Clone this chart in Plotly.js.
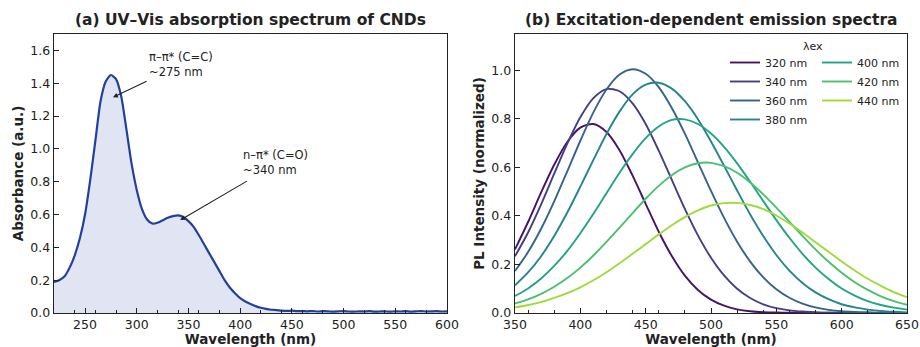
<!DOCTYPE html>
<html>
<head>
<meta charset="utf-8">
<script src="https://cdn.plot.ly/plotly-3.0.1.min.js"></script>
<style>html,body{margin:0;padding:0;background:#fff;}#chart{width:920px;height:347px;}</style>
</head>
<body>
<div id="chart"></div>
<script>
// ---------- Panel (a): UV-Vis absorption ----------
const uvWavelength = [220,225,230,235,240,245,250,255,260,265,270,275,280,285,290,295,300,305,310,315,320,325,330,335,340,345,350,355,360,365,370,375,380,385,390,395,400,405,410,415,420,425,430,435,440,445,450,455,460,465,470,475,480,485,490,495,500,505,510,515,520,525,530,535,540,545,550,555,560,565,570,575,580,585,590,595,600];
const uvAbsorbance = [0.190,0.200,0.222,0.275,0.350,0.455,0.600,0.810,1.050,1.290,1.410,1.450,1.425,1.320,1.120,0.910,0.750,0.635,0.570,0.545,0.550,0.565,0.580,0.590,0.595,0.585,0.560,0.525,0.475,0.420,0.365,0.310,0.255,0.200,0.155,0.120,0.090,0.070,0.055,0.042,0.032,0.025,0.020,0.018,0.015,0.013,0.014,0.011,0.012,0.010,0.012,0.009,0.011,0.010,0.008,0.010,0.012,0.009,0.008,0.010,0.009,0.011,0.008,0.009,0.010,0.008,0.010,0.009,0.011,0.008,0.010,0.012,0.009,0.010,0.011,0.009,0.010];

// ---------- Panel (b): PL emission spectra ----------
const plWavelength = [350,360,370,380,390,400,410,420,430,440,450,460,470,480,490,500,510,520,530,540,550,560,570,580,590,600,610,620,630,640,650];
const excitationLabels = ['320 nm','340 nm','360 nm','380 nm','400 nm','420 nm','440 nm'];
const pl320 = [0.262,0.375,0.497,0.611,0.705,0.764,0.779,0.746,0.671,0.566,0.450,0.335,0.235,0.154,0.095,0.055,0.030,0.015,0.007,0.003,0.002,0.001,0.001,0.000,0.001,0.000,0.000,0.001,0.000,0.000,0.000];
const pl340 = [0.234,0.332,0.448,0.574,0.698,0.807,0.886,0.923,0.914,0.864,0.779,0.669,0.549,0.429,0.320,0.228,0.155,0.100,0.062,0.036,0.020,0.011,0.006,0.003,0.001,0.001,0.000,0.001,0.000,0.000,0.000];
const pl360 = [0.173,0.251,0.347,0.460,0.584,0.710,0.827,0.921,0.983,1.005,0.986,0.931,0.845,0.739,0.621,0.503,0.392,0.294,0.212,0.147,0.098,0.063,0.039,0.023,0.013,0.007,0.004,0.002,0.001,0.001,0.000];
const pl380 = [0.114,0.167,0.234,0.317,0.414,0.521,0.631,0.738,0.830,0.901,0.941,0.949,0.925,0.873,0.799,0.707,0.607,0.505,0.406,0.317,0.239,0.175,0.124,0.085,0.057,0.036,0.023,0.014,0.008,0.005,0.002];
const pl400 = [0.070,0.101,0.142,0.194,0.256,0.329,0.409,0.494,0.578,0.655,0.721,0.769,0.796,0.798,0.779,0.740,0.685,0.617,0.541,0.461,0.383,0.310,0.244,0.187,0.140,0.101,0.072,0.049,0.033,0.022,0.014];
const pl420 = [0.039,0.056,0.079,0.108,0.144,0.187,0.237,0.293,0.352,0.412,0.471,0.524,0.568,0.600,0.617,0.619,0.605,0.578,0.538,0.489,0.434,0.376,0.318,0.262,0.211,0.166,0.127,0.095,0.069,0.049,0.034];
const pl440 = [0.023,0.033,0.045,0.062,0.082,0.106,0.135,0.168,0.205,0.244,0.284,0.324,0.362,0.395,0.423,0.443,0.453,0.454,0.445,0.428,0.402,0.369,0.332,0.292,0.252,0.212,0.175,0.141,0.112,0.086,0.065];
const plSeries = [pl320, pl340, pl360, pl380, pl400, pl420, pl440];

// styles (kept separate from data)
const plColors = ['#471365','#433e85','#32648e','#25848e','#20a486','#4ac16d','#a0da39'];
const W = 920, H = 347;
const FONT = 'DejaVu Sans, Verdana, sans-serif';
const INK = '#222222';

const traces = [];
traces.push({
  x: uvWavelength, y: uvAbsorbance, xaxis: 'x', yaxis: 'y',
  type: 'scatter', mode: 'lines', fill: 'tozeroy',
  fillcolor: 'rgba(40,64,160,0.14)',
  line: {color: '#22409c', width: 2.2, shape: 'spline', smoothing: 0.6},
  showlegend: false, hoverinfo: 'skip'
});
plSeries.forEach((s, i) => {
  traces.push({
    x: plWavelength, y: s, xaxis: 'x2', yaxis: 'y2',
    type: 'scatter', mode: 'lines', name: excitationLabels[i],
    line: {color: plColors[i], width: 1.9, shape: 'spline', smoothing: 0.8},
    legend: i < 4 ? 'legend' : 'legend2', hoverinfo: 'skip'
  });
});

function xAx(domain, range, title) {
  return {
    domain: domain, range: range, tick0: 0, dtick: 50,
    ticks: 'inside', ticklen: 5, tickwidth: 1, tickcolor: INK,
    minor: {ticks: 'inside', ticklen: 3, tickwidth: 1, tickcolor: INK, tick0: 0, dtick: 20},
    showline: true, mirror: true, linecolor: INK, linewidth: 1.3,
    showgrid: false, zeroline: false, automargin: false,
    tickfont: {family: FONT, size: 12.5, color: INK},
    title: {text: title, font: {family: FONT, size: 13.5, color: INK, weight: 'bold'}, standoff: 2}
  };
}
function yAx(domain, range, title) {
  return {
    domain: domain, range: range, tick0: 0, dtick: 0.2, tickformat: '.1f',
    ticks: 'inside', ticklen: 5, tickwidth: 1, tickcolor: INK,
    showline: true, mirror: true, linecolor: INK, linewidth: 1.3,
    showgrid: false, zeroline: false, automargin: false,
    tickfont: {family: FONT, size: 12.5, color: INK},
    title: {text: title, font: {family: FONT, size: 13.5, color: INK, weight: 'bold'}, standoff: 3}
  };
}

const yDom = [34 / H, 313 / H];
const layout = {
  width: W, height: H,
  margin: {l: 0, r: 0, t: 0, b: 0},
  paper_bgcolor: '#ffffff', plot_bgcolor: '#ffffff',
  font: {family: FONT, size: 12, color: INK},
  xaxis: Object.assign(xAx([54 / W, 447 / W], [220, 600], 'Wavelength (nm)'), {anchor: 'y'}),
  yaxis: Object.assign(yAx(yDom, [0, 1.7], 'Absorbance (a.u.)'), {anchor: 'x'}),
  xaxis2: Object.assign(xAx([515 / W, 907 / W], [350, 650], 'Wavelength (nm)'), {anchor: 'y2'}),
  yaxis2: Object.assign(yAx(yDom, [0, 1.15], 'PL Intensity (normalized)'), {anchor: 'x2'}),
  legend: {x: 725 / W, xanchor: 'left', y: (H - 48) / H, yanchor: 'top',
           bgcolor: 'rgba(0,0,0,0)', borderwidth: 0, font: {family: FONT, size: 11, color: INK}, tracegroupgap: 0},
  legend2: {x: 817 / W, xanchor: 'left', y: (H - 48) / H, yanchor: 'top',
           bgcolor: 'rgba(0,0,0,0)', borderwidth: 0, font: {family: FONT, size: 11, color: INK}, tracegroupgap: 0},
  annotations: [
    {xref: 'paper', yref: 'paper', x: 250.5 / W, y: (H - 20) / H, xanchor: 'center', yanchor: 'middle',
     text: '(a) UV–Vis absorption spectrum of CNDs', showarrow: false,
     font: {family: FONT, size: 15.5, color: INK, weight: 'bold'}},
    {xref: 'paper', yref: 'paper', x: 711 / W, y: (H - 20) / H, xanchor: 'center', yanchor: 'middle',
     text: '(b) Excitation-dependent emission spectra', showarrow: false,
     font: {family: FONT, size: 15.5, color: INK, weight: 'bold'}},
    {xref: 'paper', yref: 'paper', x: 813 / W, y: (H - 46) / H, xanchor: 'center', yanchor: 'middle',
     text: 'λex', showarrow: false, font: {family: FONT, size: 11, color: INK}},
    // text labels
    {xref: 'x', yref: 'y', x: 310, y: 1.512, xanchor: 'left', yanchor: 'middle', align: 'left',
     text: 'π–π* (C=C)<br>~275 nm', showarrow: false, font: {family: FONT, size: 11.5, color: INK}},
    {xref: 'x', yref: 'y', x: 400.5, y: 0.915, xanchor: 'left', yanchor: 'middle', align: 'left',
     text: 'n–π* (C=O)<br>~340 nm', showarrow: false, font: {family: FONT, size: 11.5, color: INK}},
    // arrows
    {xref: 'x', yref: 'y', axref: 'x', ayref: 'y', x: 277, y: 1.314, ax: 311, ay: 1.417,
     text: '', showarrow: true, arrowhead: 2, arrowsize: 0.9, arrowwidth: 1.1, arrowcolor: INK, standoff: 0, startstandoff: 0},
    {xref: 'x', yref: 'y', axref: 'x', ayref: 'y', x: 342, y: 0.566, ax: 408, ay: 0.809,
     text: '', showarrow: true, arrowhead: 2, arrowsize: 0.9, arrowwidth: 1.1, arrowcolor: INK, standoff: 0, startstandoff: 0}
  ]
};

Plotly.newPlot('chart', traces, layout, {displayModeBar: false, staticPlot: true});
</script>
</body>
</html>
